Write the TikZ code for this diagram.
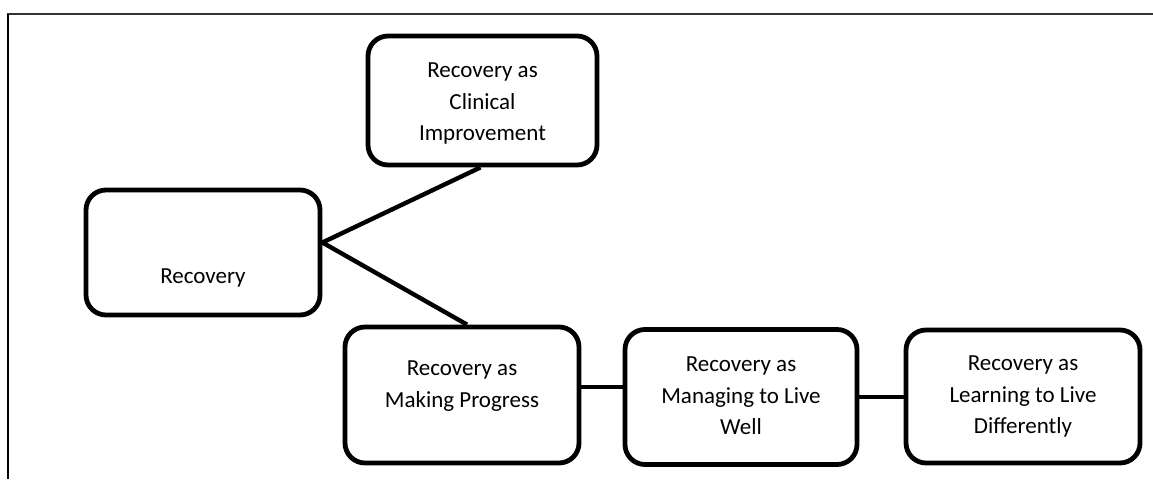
\documentclass[tikz,border=0pt]{standalone}
\usepackage{fontspec}
\setmainfont{Carlito}
\usetikzlibrary{calc}
\begin{document}
\begin{tikzpicture}[x=1pt,y=-1pt,
  box/.style={draw=black,line width=4.8pt,rounded corners=20pt,rectangle,
    fill=white,inner sep=0pt},
  txt/.style={align=center,inner sep=0pt,font=\fontsize{23}{31.5}\selectfont},
  link/.style={draw=black,line width=4.4pt}]
\useasboundingbox (0,0) rectangle (1153,479);
\fill[white] (0,0) rectangle (1153,479);
% frame
\draw[line width=1.4pt,black!80] (7,14) -- (1153,14);
\draw[line width=2pt,black] (8,14) -- (8,479);
% boxes
\node[box,minimum width=229pt,minimum height=129pt] (clin) at (482.5,100.5) {};
\node[box,minimum width=234pt,minimum height=125pt] (rec) at (203,252.5) {};
\node[box,minimum width=234pt,minimum height=136pt] (mk) at (462,395) {};
\node[box,minimum width=232pt,minimum height=135pt] (mg) at (741,397) {};
\node[box,minimum width=234pt,minimum height=133pt] (lr) at (1023,396.5) {};
% texts
\node[txt] (clint) at ($(clin.center)+(0,3)$) {Recovery as\\Clinical\\Improvement};
\node[txt] (rect) at ($(rec.center)+(0,25)$) {Recovery};
\node[txt] (mkt) at ($(mk.center)+(0,-9)$) {Recovery as\\Making Progress};
\node[txt] (mgt) at ($(mg.center)+(0,-1)$) {Recovery as\\Managing to Live\\Well};
\node[txt] (lrt) at ($(lr.center)+(0,0)$) {Recovery as\\Learning to Live\\Differently};
% connectors
\coordinate (j) at ($(rec.east)+(0,-10)$);
\coordinate (mke) at ($(mk.east)+(0,-8)$);
\draw[link] (j) -- ($(clin.south)+(-2,0)$);
\draw[link] (j) -- ($(mk.north)+(5,0)$);
\draw[link] (mke) -- (mke -| mg.west);
\draw[link] (mg.east) -- (mg.east -| lr.west);
\end{tikzpicture}
\end{document}
